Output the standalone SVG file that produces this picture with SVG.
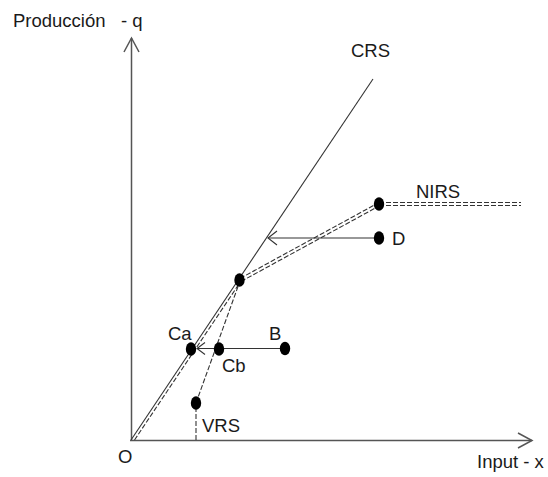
<svg xmlns="http://www.w3.org/2000/svg" width="548" height="477" viewBox="0 0 548 477">
<style>
text{font-family:"Liberation Sans",Arial,sans-serif;font-size:18.5px;fill:#1a1a1a}
.ax{stroke:#555;stroke-width:1.5;fill:none}
.sol{stroke:#333;stroke-width:1.1;fill:none}
.ds{stroke:#333;stroke-width:1.1;fill:none;stroke-dasharray:5 2}
.hd{stroke:#333;stroke-width:1.1;fill:none}
.dot{fill:#000}
</style>
<rect width="548" height="477" fill="#fff"/>
<g id="connectors">
  <g id="axes">
    <line class="ax" x1="131.5" y1="441" x2="131.5" y2="38"/>
    <polyline class="ax" points="124,52 131.5,38 139,52"/>
    <line class="ax" x1="130" y1="440.5" x2="532" y2="440.5"/>
    <polyline class="ax" points="518,433 532,440.5 518,448"/>
  </g>
  <line id="crs" class="sol" x1="131" y1="440" x2="373" y2="79"/>
  <g id="nirs-frontier">
    <line class="ds" x1="134.5" y1="440" x2="241" y2="281"/>
    <line class="ds" x1="240" y1="278.5" x2="379" y2="202.5"/>
    <line class="ds" x1="379" y1="202.5" x2="521" y2="202.5"/>
  </g>
  <g id="vrs-frontier">
    <line class="ds" x1="196" y1="440" x2="196" y2="403"/>
    <line class="ds" x1="196" y1="403" x2="240" y2="281"/>
    <line class="ds" x1="241" y1="281.5" x2="380" y2="205.5"/>
    <line class="ds" x1="379" y1="205.5" x2="521" y2="205.5"/>
  </g>
  <g id="arrow-d">
    <line class="sol" x1="379" y1="238" x2="268" y2="238"/>
    <polyline class="hd" points="277,231 268,238 277,245"/>
  </g>
  <g id="arrow-b">
    <line class="sol" x1="285" y1="348.5" x2="197" y2="348.5"/>
    <polyline class="hd" points="205,342.5 197,348.5 205,354.5"/>
  </g>
</g>
<g id="node-y-label"><text x="13" y="27">Producción</text><text x="121" y="27">- q</text></g>
<g id="node-x-label"><text x="477" y="468">Input - x</text></g>
<g id="node-o"><text x="118" y="463">O</text></g>
<g id="node-crs"><text x="351" y="57">CRS</text></g>
<g id="node-nirs"><ellipse class="dot" cx="379" cy="204" rx="5.2" ry="6.8"/><text x="416" y="198">NIRS</text></g>
<g id="node-d"><ellipse class="dot" cx="379" cy="238" rx="5.2" ry="6.8"/><text x="392" y="245">D</text></g>
<g id="node-kink"><ellipse class="dot" cx="239.5" cy="280" rx="5.2" ry="6.8"/></g>
<g id="node-ca"><ellipse class="dot" cx="191" cy="349" rx="5.2" ry="6.8"/><text x="168" y="340">Ca</text></g>
<g id="node-cb"><ellipse class="dot" cx="219" cy="349" rx="5.2" ry="6.8"/><text x="222" y="372">Cb</text></g>
<g id="node-b"><ellipse class="dot" cx="285" cy="348.5" rx="5.2" ry="6.8"/><text x="269" y="340">B</text></g>
<g id="node-vrs"><ellipse class="dot" cx="196" cy="403" rx="5.2" ry="6.8"/><text x="202" y="432">VRS</text></g>
</svg>
